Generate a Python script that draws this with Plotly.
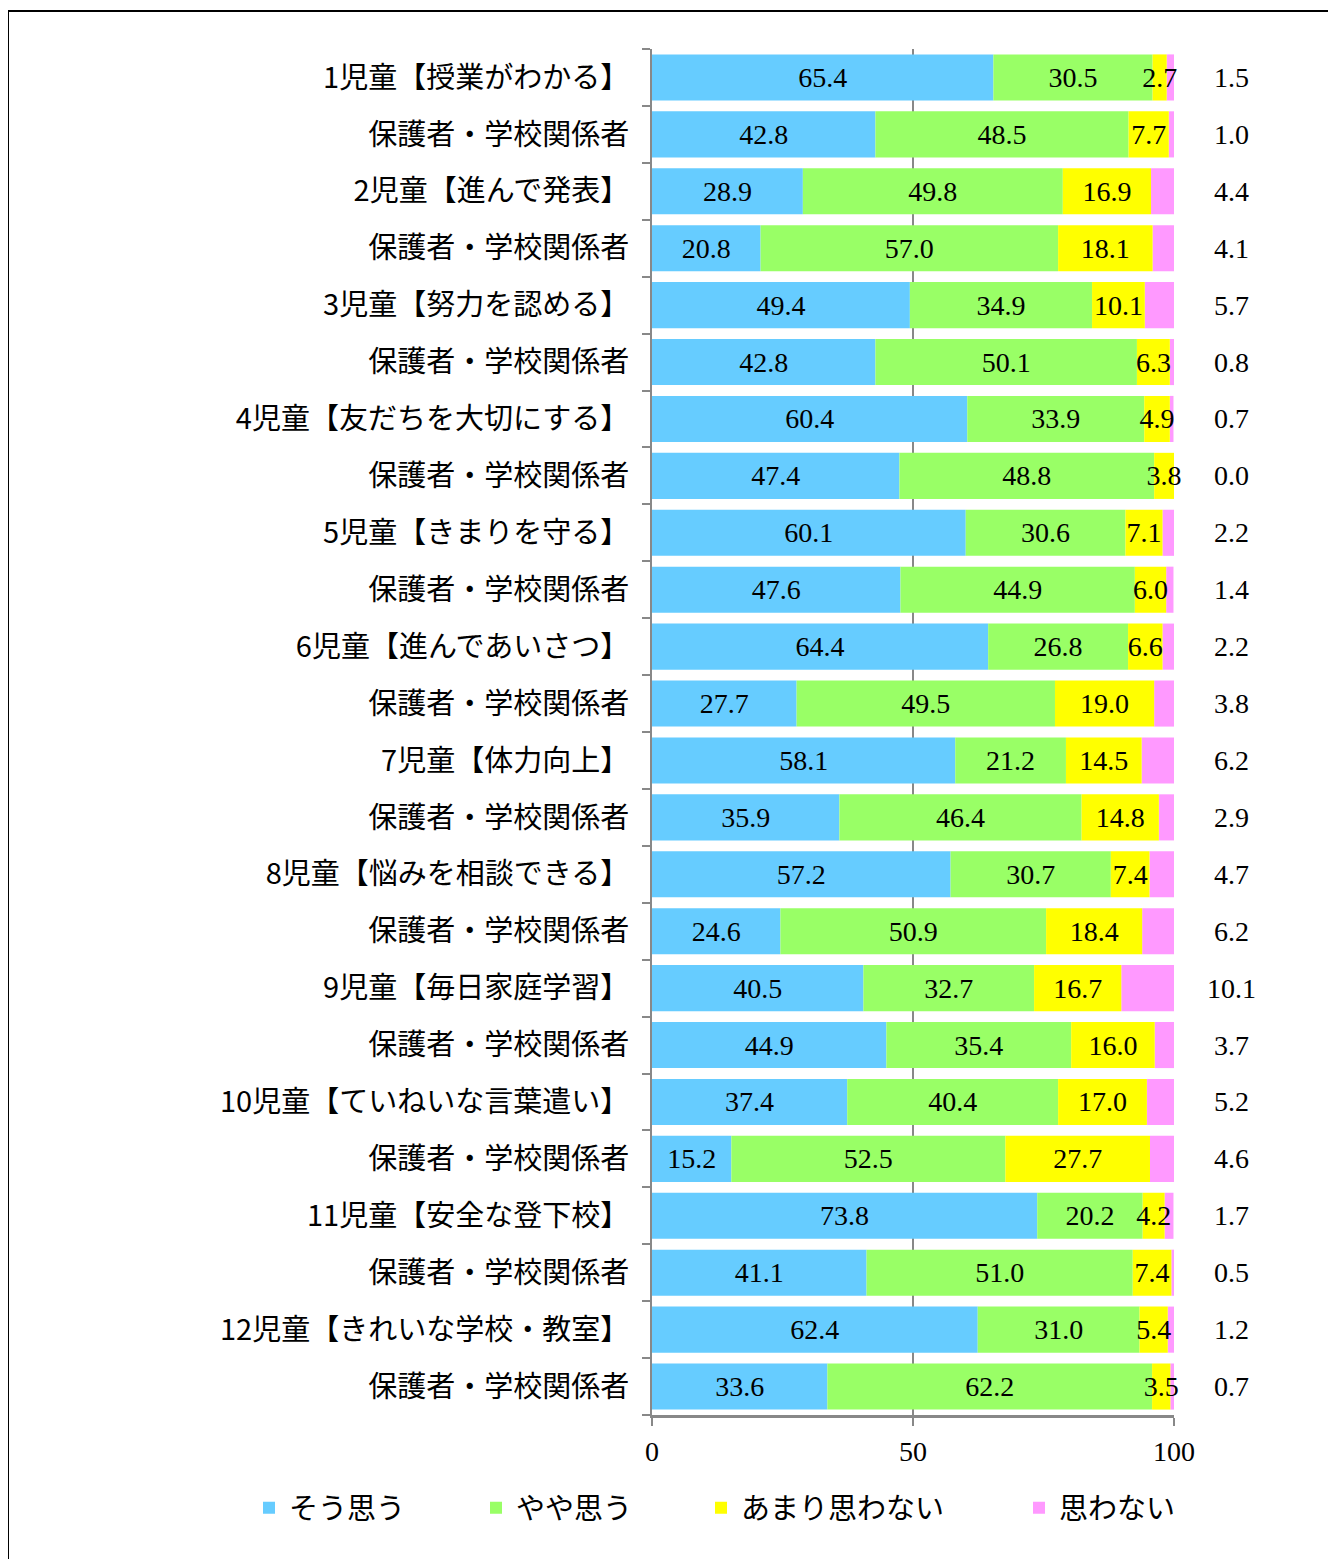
import plotly.graph_objects as go

categories = [
    "1児童【授業がわかる】", "保護者・学校関係者",
    "2児童【進んで発表】", "保護者・学校関係者",
    "3児童【努力を認める】", "保護者・学校関係者",
    "4児童【友だちを大切にする】", "保護者・学校関係者",
    "5児童【きまりを守る】", "保護者・学校関係者",
    "6児童【進んであいさつ】", "保護者・学校関係者",
    "7児童【体力向上】", "保護者・学校関係者",
    "8児童【悩みを相談できる】", "保護者・学校関係者",
    "9児童【毎日家庭学習】", "保護者・学校関係者",
    "10児童【ていねいな言葉遣い】", "保護者・学校関係者",
    "11児童【安全な登下校】", "保護者・学校関係者",
    "12児童【きれいな学校・教室】", "保護者・学校関係者",
]
sou_omou = [65.4, 42.8, 28.9, 20.8, 49.4, 42.8, 60.4, 47.4, 60.1, 47.6, 64.4, 27.7,
            58.1, 35.9, 57.2, 24.6, 40.5, 44.9, 37.4, 15.2, 73.8, 41.1, 62.4, 33.6]
yaya_omou = [30.5, 48.5, 49.8, 57.0, 34.9, 50.1, 33.9, 48.8, 30.6, 44.9, 26.8, 49.5,
             21.2, 46.4, 30.7, 50.9, 32.7, 35.4, 40.4, 52.5, 20.2, 51.0, 31.0, 62.2]
amari_omowanai = [2.7, 7.7, 16.9, 18.1, 10.1, 6.3, 4.9, 3.8, 7.1, 6.0, 6.6, 19.0,
                  14.5, 14.8, 7.4, 18.4, 16.7, 16.0, 17.0, 27.7, 4.2, 7.4, 5.4, 3.5]
omowanai = [1.5, 1.0, 4.4, 4.1, 5.7, 0.8, 0.7, 0.0, 2.2, 1.4, 2.2, 3.8,
            6.2, 2.9, 4.7, 6.2, 10.1, 3.7, 5.2, 4.6, 1.7, 0.5, 1.2, 0.7]
series_names = ["そう思う", "やや思う", "あまり思わない", "思わない"]
x_ticks = [0, 50, 100]

colors = ["#66CCFF", "#99FF66", "#FFFF00", "#FF99FF"]
JP = "Noto Sans CJK JP"
NUM = "Liberation Serif"

# page body has an 8px margin: work in reference pixels, shift by OFF
OFF = 8
W, H = 1336 - OFF, 1559 - OFF
L, R = 652 - OFF, 1174 - OFF
T, B = 49 - OFF, 1415 - OFF
pw, ph = R - L, B - T


def px2x(p):
    return (p - OFF - L) / pw


def py2y(p):
    return (B - (p - OFF)) / ph


idx = list(range(len(categories)))
all_series = [sou_omou, yaya_omou, amari_omowanai, omowanai]
legends = ["legend", "legend2", "legend3", "legend4"]

# cumulative bases (stacking), so that the labels can be drawn above all segments
bases = []
run = [0.0] * len(idx)
for vals in all_series:
    bases.append(list(run))
    run = [a + b for a, b in zip(run, vals)]

fig = go.Figure()
# draw the last segment first so the other series' labels sit on top of it
for i in [3, 0, 1, 2]:
    vals = all_series[i]
    show_text = i < 3
    fig.add_trace(go.Bar(
        y=idx, x=vals, base=bases[i], name=series_names[i], orientation="h",
        marker=dict(color=colors[i], line=dict(width=0)),
        texttemplate="%{x:.1f}" if show_text else None,
        textposition="inside" if show_text else "none",
        insidetextanchor="middle", textangle=0, cliponaxis=False,
        textfont=dict(family=NUM, size=28, color="black"),
        legend=legends[i], hoverinfo="x+name",
    ))

for yi, v in zip(idx, omowanai):
    fig.add_annotation(x=px2x(1231), y=yi, xref="paper", yref="y", text=f"{v:.1f}",
                       xanchor="center", yanchor="middle",
                       showarrow=False, font=dict(family=NUM, size=28, color="black"))

fig.add_shape(type="rect", xref="paper", yref="paper",
              x0=px2x(8), x1=px2x(1350), y0=py2y(1580), y1=py2y(11),
              line=dict(color="black", width=2), fillcolor="rgba(0,0,0,0)", layer="below")

legend_common = dict(orientation="h", xanchor="left", yanchor="middle", yref="paper",
                     font=dict(family=JP, size=29, color="black"), bgcolor="rgba(0,0,0,0)")
marker_centers = [271, 498, 723, 1041]
for lg, mc in zip(legends, marker_centers):
    fig.update_layout({lg: dict(x=px2x(mc - 22), y=py2y(1508), **legend_common)})

fig.update_layout(
    width=W, height=H,
    margin=dict(l=L, r=W - R, t=T, b=H - B, pad=0),
    paper_bgcolor="white", plot_bgcolor="white",
    barmode="overlay", bargap=0.19,
    uniformtext=dict(minsize=28, mode="show"),
    showlegend=True,
    xaxis=dict(range=[0, 100], tickvals=x_ticks, ticktext=[str(t) for t in x_ticks],
               showgrid=True, gridcolor="#888888", gridwidth=2,
               showline=True, linecolor="#888888", linewidth=3,
               ticks="outside", ticklen=8, tickcolor="#888888", tickwidth=2,
               ticklabelstandoff=1,
               tickfont=dict(family=NUM, size=28, color="black"), zeroline=False,
               fixedrange=True),
    yaxis=dict(range=[23.5, -0.5], tickvals=idx, ticktext=categories,
               ticks="", showgrid=False, zeroline=False,
               showline=True, linecolor="#888888", linewidth=2,
               minor=dict(tick0=-0.5, dtick=1, ticks="outside", ticklen=8,
                          tickcolor="#888888", tickwidth=2, showgrid=False),
               ticklabelstandoff=15,
               tickfont=dict(family=JP, size=29, color="black"), fixedrange=True),
)

fig.write_html("out.html")
